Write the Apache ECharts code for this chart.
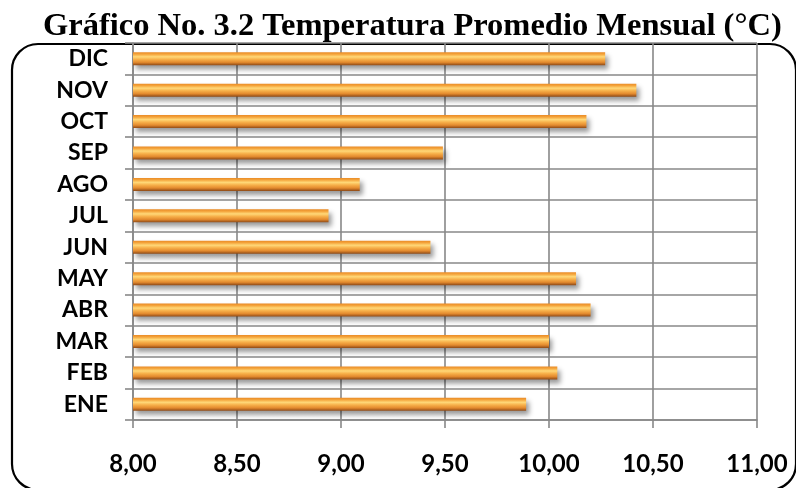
<!DOCTYPE html>
<html>
<head>
<meta charset="utf-8">
<script src="https://cdn.jsdelivr.net/npm/echarts@6/dist/echarts.min.js"></script>
<style>
html,body{margin:0;padding:0;background:#fff;}
#chart{width:796px;height:488px;}
</style>
</head>
<body>
<div id="chart"></div>
<script>
const titleText = 'Gráfico No. 3.2 Temperatura Promedio Mensual (°C)';
const months = ['ENE','FEB','MAR','ABR','MAY','JUN','JUL','AGO','SEP','OCT','NOV','DIC'];
const temps = [9.89, 10.04, 10.00, 10.20, 10.13, 9.43, 8.94, 9.09, 9.49, 10.18, 10.42, 10.27];
const xMin = 8, xMax = 11, xStep = 0.5;

const chart = echarts.init(document.getElementById('chart'), null, {renderer:'canvas'});
const gridColor = '#888888';
chart.setOption({
  backgroundColor: '#fff',
  animation: false,
  title: {
    text: titleText,
    left: 38,
    top: 5,
    textStyle: {fontFamily: 'Liberation Serif', fontWeight: 'bold', fontSize: 32.5, color: '#000'}
  },
  graphic: [{
    type: 'rect',
    shape: {x: 12, y: 44, width: 784, height: 446, r: 26},
    style: {fill: 'none', stroke: '#000', lineWidth: 2.2},
    z: -1
  }],
  grid: {left: 133, right: 39, top: 43, bottom: 68, containLabel: false},
  xAxis: {
    type: 'value',
    min: xMin, max: xMax, interval: xStep,
    axisLine: {show: true, lineStyle: {color: gridColor, width: 1.6}},
    axisTick: {show: true, length: 8, lineStyle: {color: gridColor, width: 1.6}},
    splitLine: {show: true, lineStyle: {color: gridColor, width: 1.6}},
    axisLabel: {
      margin: 32,
      fontFamily: 'Lato', fontWeight: 'bold', fontSize: 24, color: '#000',
      formatter: v => v.toFixed(2).replace('.', ',')
    }
  },
  yAxis: {
    type: 'category',
    data: months,
    axisLine: {show: true, lineStyle: {color: gridColor, width: 1.6}},
    axisTick: {show: true, length: 8, lineStyle: {color: gridColor, width: 1.6}},
    splitLine: {show: true, lineStyle: {color: gridColor, width: 1.6}},
    axisLabel: {
      margin: 25,
      fontFamily: 'Lato', fontWeight: 'bold', fontSize: 23, color: '#000'
    }
  },
  series: [{
    type: 'bar',
    data: temps,
    barWidth: 13,
    itemStyle: {
      color: new echarts.graphic.LinearGradient(0, 0, 0, 1, [
        {offset: 0, color: '#E98A26'},
        {offset: 0.15, color: '#F4A33A'},
        {offset: 0.35, color: '#FFD878'},
        {offset: 0.55, color: '#F7B04A'},
        {offset: 0.78, color: '#E38A2E'},
        {offset: 1, color: '#8F4A16'}
      ]),
      shadowColor: 'rgba(0,0,0,0.4)',
      shadowBlur: 5,
      shadowOffsetX: 3,
      shadowOffsetY: 4
    }
  }]
});
</script>
</body>
</html>
